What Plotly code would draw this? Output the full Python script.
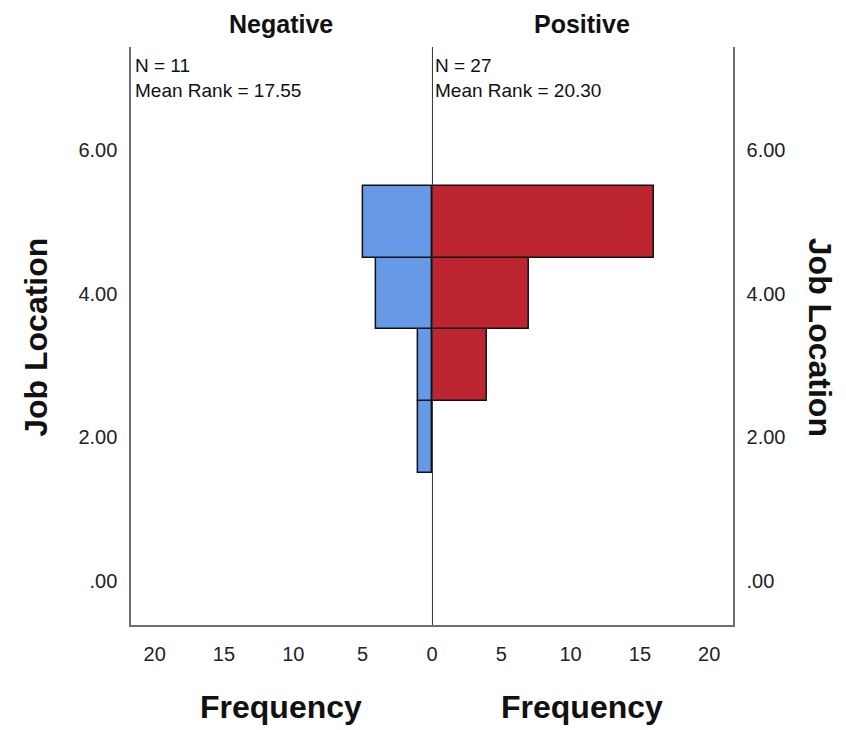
import plotly.graph_objects as go

# Data
job_location_neg = [2, 3, 4, 5]
freq_neg = [1, 1, 4, 5]
job_location_pos = [3, 4, 5]
freq_pos = [4, 7, 16]
groups = ["Negative", "Positive"]
n_values = [11, 27]
mean_ranks = ["17.55", "20.30"]
y_tickvals = [0, 2, 4, 6]
y_ticktext = [".00", "2.00", "4.00", "6.00"]
x_tickvals_neg = [5, 10, 15, 20]
x_tickvals_pos = [0, 5, 10, 15, 20]

W, H = 846, 730
FONT = "Liberation Sans, Arial, sans-serif"
BLUE = "#6699E6"
RED = "#BD2631"
AXIS_GREY = "#6e6e6e"

def px_x(p):
    return p / W

def px_y(p):
    return 1 - p / H

fig = go.Figure()
fig.add_trace(go.Bar(
    x=freq_neg, y=job_location_neg, orientation="h", width=1,
    marker=dict(color=BLUE, line=dict(color="#111111", width=1.5)),
    xaxis="x", yaxis="y", showlegend=False,
))
fig.add_trace(go.Bar(
    x=freq_pos, y=job_location_pos, orientation="h", width=1,
    marker=dict(color=RED, line=dict(color="#111111", width=1.5)),
    xaxis="x2", yaxis="y2", showlegend=False,
))

ydom = [px_y(625), px_y(47)]
yrange = [-0.619, 7.437]
xmax = 21.7

tickfont = dict(family=FONT, size=20, color="#222222")

fig.update_layout(
    width=W, height=H,
    margin=dict(l=0, r=0, t=0, b=0),
    paper_bgcolor="white", plot_bgcolor="white",
    bargap=0,
    xaxis=dict(domain=[px_x(126), px_x(429)], range=[xmax, 0], anchor="y",
               tickvals=x_tickvals_neg, showgrid=False, zeroline=False,
               showline=True, linecolor=AXIS_GREY, linewidth=1.5,
               ticks="", ticklabelstandoff=10, tickfont=tickfont),
    xaxis2=dict(domain=[px_x(429), px_x(732)], range=[0, xmax], anchor="y2",
                tickvals=x_tickvals_pos, showgrid=False, zeroline=False,
                showline=True, linecolor=AXIS_GREY, linewidth=1.5,
                ticks="", ticklabelstandoff=10, tickfont=tickfont),
    yaxis=dict(domain=ydom, range=yrange, anchor="x", side="left",
               tickvals=y_tickvals, ticktext=y_ticktext, showgrid=False,
               zeroline=False, showline=True, linecolor=AXIS_GREY, linewidth=1.5,
               ticks="", ticklabelstandoff=8, tickfont=tickfont),
    yaxis2=dict(domain=ydom, range=yrange, anchor="x2", side="right",
                tickvals=y_tickvals, ticktext=y_ticktext, showgrid=False,
                zeroline=False, showline=True, linecolor=AXIS_GREY, linewidth=1.5,
                ticks="", ticklabelstandoff=8, tickfont=tickfont),
)

# Center line at zero
fig.add_shape(type="line", xref="x2", yref="y2 domain", x0=0, x1=0, y0=0, y1=1,
              line=dict(color="#333333", width=2), layer="above")

# Group titles
for g, cx in zip(groups, [277, 580]):
    fig.add_annotation(text=f"<b>{g}</b>", x=px_x(cx), y=px_y(24), xref="paper", yref="paper",
                       showarrow=False, xanchor="center", yanchor="middle",
                       font=dict(family=FONT, size=25, color="#111111"))

# N / Mean Rank texts
for n, mr, lx in zip(n_values, mean_ranks, [128, 430]):
    fig.add_annotation(text=f"N = {n}<br>Mean Rank = {mr}", x=px_x(lx), y=px_y(53),
                       xref="paper", yref="paper", showarrow=False, align="left",
                       xanchor="left", yanchor="top",
                       font=dict(family=FONT, size=19, color="#111111"))

# Frequency titles
for cx in [277, 580]:
    fig.add_annotation(text="<b>Frequency</b>", x=px_x(cx), y=px_y(707), xref="paper", yref="paper",
                       showarrow=False, xanchor="center", yanchor="middle",
                       font=dict(family=FONT, size=32, color="#111111"))

# Y titles
fig.add_annotation(text="<b>Job Location</b>", x=px_x(30), y=px_y(337), xref="paper", yref="paper",
                   showarrow=False, textangle=-90, xanchor="center", yanchor="middle",
                   font=dict(family=FONT, size=32, color="#111111"))
fig.add_annotation(text="<b>Job Location</b>", x=px_x(820), y=px_y(337), xref="paper", yref="paper",
                   showarrow=False, textangle=90, xanchor="center", yanchor="middle",
                   font=dict(family=FONT, size=32, color="#111111"))

fig.write_html("out.html", config={"displayModeBar": False},
               post_script="document.body.style.margin='0';")
